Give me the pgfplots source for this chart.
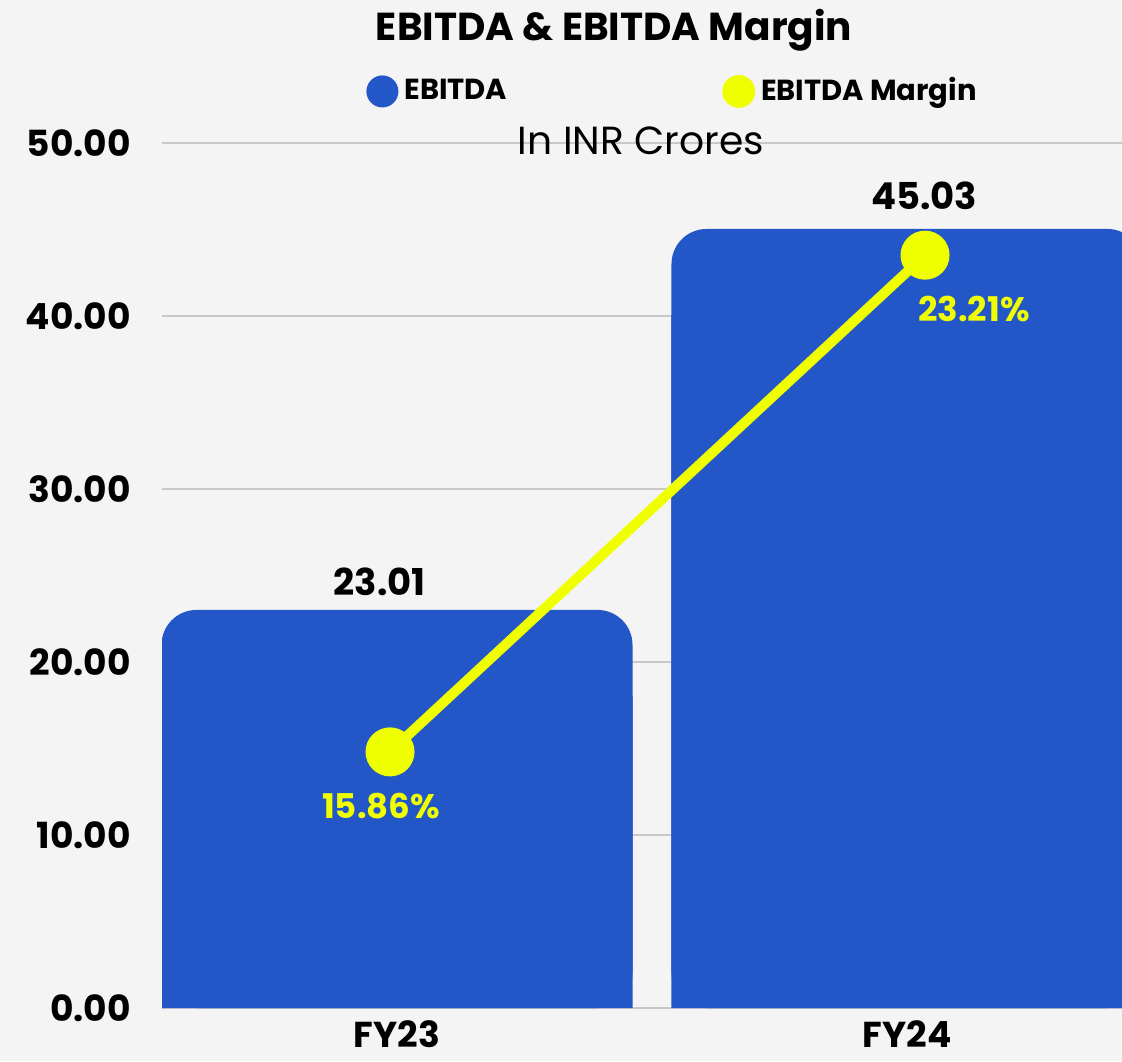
\documentclass[border=0pt]{standalone}
\usepackage{pgfplots}
\pgfplotsset{compat=1.18}
\usepackage{fontspec}
\setmainfont{Poppins}
\definecolor{barblue}{HTML}{2356C6}
\definecolor{lineyellow}{HTML}{F0FF00}
\definecolor{bggray}{HTML}{F4F4F4}
\definecolor{gridgray}{HTML}{C8C8C8}

\begin{document}
\begin{tikzpicture}
\fill[bggray] (0,0) rectangle (561pt,530.5pt);
\useasboundingbox (0,0) rectangle (561pt,530.5pt);

% EBITDA bars
\begin{axis}[
  at={(81pt,26.5pt)}, anchor=south west,
  scale only axis, width=480pt, height=432.5pt,
  xmin=-0.4608, xmax=1.4216, ymin=0, ymax=50,
  xtick={0,1}, xticklabels={FY23,FY24},
  ytick={0,10,...,50}, yticklabels={0.00,10.00,20.00,30.00,40.00,50.00},
  axis line style={draw=none}, major tick length=0pt,
  ymajorgrids, grid style={draw=gridgray, line width=0.6pt},
  tick label style={font=\fontsize{18}{20}\selectfont\bfseries, text=black},
  yticklabel style={anchor=east, inner sep=0pt, xshift=-15.5pt},
  xticklabel style={anchor=north, inner sep=0pt, yshift=-6pt},
  title={EBITDA \& EBITDA Margin},
  title style={at={(0.4708,1.1052)}, anchor=base, inner sep=0pt,
    font=\fontsize{19.5}{22}\selectfont\bfseries},
  legend columns=2,
  legend style={at={(0.2125,1.0402)}, anchor=south west, draw=none, fill=none,
    inner sep=0pt, font=\fontsize{14.5}{17}\selectfont\bfseries,
    nodes={inner sep=1.5pt},
    /tikz/every odd column/.append style={column sep=1.5pt},
    /tikz/every even column/.append style={column sep=106pt}},
  clip=true,
]
% square lower part, so only the top corners look rounded
\addplot[ybar, bar width=235.5pt, bar shift=0pt, fill=barblue, draw=none, forget plot,
  y filter/.expression={y-5}]
  coordinates {(0,23.01) (1,45.03)};
\addplot[ybar, bar width=235.5pt, bar shift=0pt, fill=barblue, draw=none,
  rounded corners=17.5pt,
  legend image code/.code={\fill[barblue] (8pt,-0.3pt) circle (8pt);},
  visualization depends on={x \as \xv},
  nodes near coords={\pgfmathprintnumber[fixed,fixed zerofill,precision=2,assume math mode=true]{\pgfplotspointmeta}},
  nodes near coords style={anchor=south, inner sep=0pt, text=black,
    font=\fontsize{18.5}{20}\selectfont\bfseries,
    xshift={(2*\xv-1)*8.6pt}, yshift={(7+2.5*\xv)*1pt}},
]
  coordinates {(0,23.01) (1,45.03)};
\addlegendentry{EBITDA}
\addlegendimage{legend image code/.code={\fill[lineyellow] (8pt,-0.3pt) circle (8pt);}}
\addlegendentry{EBITDA Margin}
\end{axis}

% EBITDA margin line, own scale
\begin{axis}[
  at={(81pt,26.5pt)}, anchor=south west,
  scale only axis, width=480pt, height=432.5pt,
  xmin=-0.4262, xmax=1.3682, ymin=12.07, ymax=24.87,
  hide axis, clip=false,
]
\addplot[lineyellow, line width=5pt, mark=*, mark size=9.75pt,
  mark options={fill=lineyellow, draw=none, solid},
  visualization depends on={x \as \xv},
  nodes near coords={\pgfmathprintnumber[fixed,fixed zerofill,precision=2,assume math mode=true]{\pgfplotspointmeta}\%},
  nodes near coords style={anchor=north, inner sep=0pt, text=lineyellow,
    font=\fontsize{17}{19}\selectfont\bfseries,
    xshift={(29*\xv-4.5)*1pt}, yshift=-18pt},
]
  coordinates {(0,15.86) (1,23.21)};
\end{axis}

\node[anchor=base, font=\fontsize{19.6}{22}\selectfont] at (320.5pt,453pt) {In INR Crores};
\end{tikzpicture}
\end{document}
